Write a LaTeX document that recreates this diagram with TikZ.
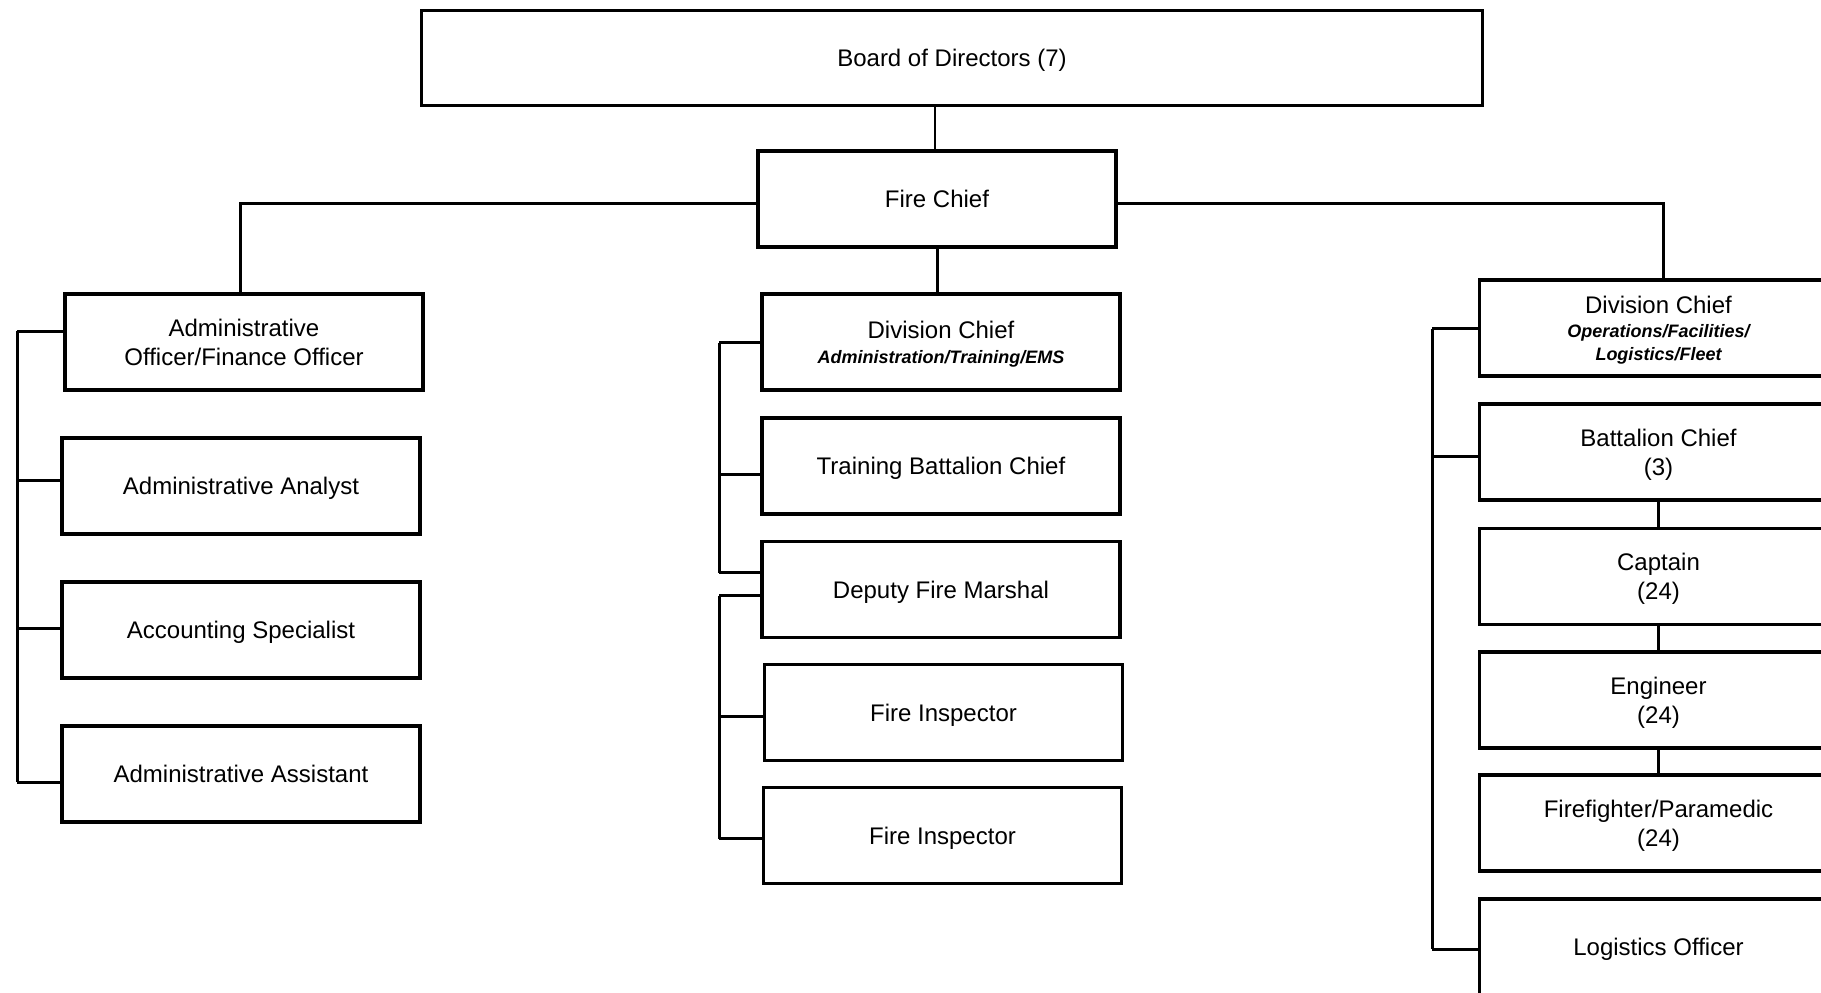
\documentclass[tikz,border=0pt]{standalone}
\usepackage{fontspec}
\setmainfont{Liberation Sans}
\begin{document}
\begin{tikzpicture}[x=0.5pt,y=-0.5pt,
  box/.style={draw, line width=1.75pt, minimum width=179pt, minimum height=48pt,
    inner sep=0pt, align=center, text depth=0pt, font=\fontsize{12}{14.5}\selectfont},
  conn/.style={line width=1.5pt},
  thinconn/.style={line width=0.9pt}]
\newcommand{\subt}[1]{{\fontsize{9}{11}\selectfont\bfseries\itshape #1}}
\useasboundingbox (0,0) rectangle (1821,992);
\clip (0,0) rectangle (1821,992);
% top
\node[box, minimum width=530.5pt, minimum height=47.5pt] (BD) at (952,58) {Board of Directors (7)};
\node[box] (FC) at (937,199) {Fire Chief};
% left column
\node[box] (AO) at (244,342) {Administrative\\Officer/Finance Officer};
\node[box] (AAn) at (241,486) {Administrative Analyst};
\node[box] (AS) at (241,630) {Accounting Specialist};
\node[box] (AAs) at (241,774) {Administrative Assistant};
% center column
\node[box] (DCA) at (941,342) {Division Chief\\[-2pt]\subt{Administration/Training/EMS}};
\node[box] (TBC) at (941,466) {Training Battalion Chief};
\node[box] (DFM) at (941,589.5) {Deputy Fire Marshal};
\node[box] (FI1) at (943.5,712.7) {Fire Inspector};
\node[box] (FI2) at (942.5,835.6) {Fire Inspector};
% right column
\node[box] (DCO) at (1658.5,328) {Division Chief\\[-2.5pt]\subt{Operations/Facilities/}\\[-3pt]\subt{Logistics/Fleet}};
\node[box] (BC) at (1658.5,452) {Battalion Chief\\(3)};
\node[box] (CP) at (1658.5,576.6) {Captain\\(24)};
\node[box] (EN) at (1658.5,700) {Engineer\\(24)};
\node[box] (FF) at (1658.5,823) {Firefighter/Paramedic\\(24)};
\node[box] (LO) at (1658.5,947) {Logistics Officer};
% top connectors
\coordinate (lt) at (240,203);
\coordinate (rt) at (1663,203);
\draw[thinconn] ([xshift=-1pt]FC.north) -- ([xshift=-1pt]FC.north |- BD.south);
\draw[conn] ([yshift=-2pt]FC.west) -- (lt) -- (lt |- AO.north);
\draw[conn] ([yshift=-2pt]FC.east) -- (rt) -- (rt |- DCO.north);
\draw[conn] (FC.south) -- (FC.south |- DCA.north);
% left bus
\coordinate (l1) at (17.4,331);
\coordinate (l2) at (17.4,480);
\coordinate (l3) at (17.4,628);
\coordinate (l4) at (17.4,782);
\draw[conn] (l1) -- (l4);
\draw[conn] (l1) -- (l1 -| AO.west);
\draw[conn] (l2) -- (l2 -| AAn.west);
\draw[conn] (l3) -- (l3 -| AS.west);
\draw[conn] (l4) -- (l4 -| AAs.west);
% center buses
\coordinate (c1) at (719,342.6);
\coordinate (c2) at (719,474);
\coordinate (c3) at (719,572.6);
\coordinate (c4) at (719,595.8);
\coordinate (c5) at (719,716.6);
\coordinate (c6) at (719,838.5);
\draw[conn] (c1) -- (c3);
\draw[conn] (c1) -- (c1 -| DCA.west);
\draw[conn] (c2) -- (c2 -| TBC.west);
\draw[conn] (c3) -- (c3 -| DFM.west);
\draw[conn] (c4) -- (c6);
\draw[conn] (c4) -- (c4 -| DFM.west);
\draw[conn] (c5) -- (c5 -| FI1.west);
\draw[conn] (c6) -- (c6 -| FI2.west);
% right bus
\coordinate (r1) at (1432,328.7);
\coordinate (r2) at (1432,456);
\coordinate (r3) at (1432,949);
\draw[conn] (r1) -- (r3);
\draw[conn] (r1) -- (r1 -| DCO.west);
\draw[conn] (r2) -- (r2 -| BC.west);
\draw[conn] (r3) -- (r3 -| LO.west);
% chain
\draw[conn] (BC.south) -- (CP.north);
\draw[conn] (CP.south) -- (EN.north);
\draw[conn] (EN.south) -- (FF.north);
\end{tikzpicture}
\end{document}
